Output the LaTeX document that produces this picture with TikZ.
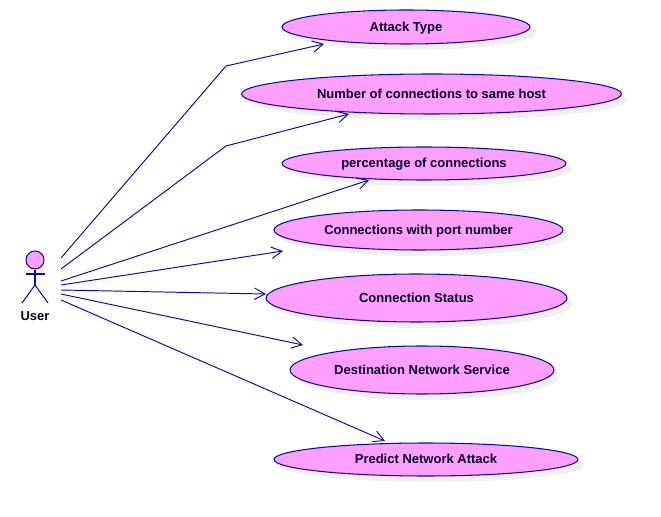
\documentclass[tikz,border=0pt]{standalone}
\usepackage{fontspec}
\setmainfont{Liberation Sans}
\usetikzlibrary{shapes.geometric, arrows.meta, shadows}

\begin{document}
\begin{tikzpicture}[
    x=0.02cm, y=-0.02cm,
    usecase/.style={ellipse, draw=umlblue, fill=umlpink, line width=0.6pt, inner sep=0pt, text=black!85!blue,
      text height=6.4pt, text depth=1.5pt,
      font=\fontsize{7.4pt}{9pt}\selectfont\bfseries,
      drop shadow={shadow xshift=3.4pt, shadow yshift=-3.4pt, fill=black!6, opacity=1}},
    limb/.style={draw=umlblue, line width=0.6pt},
    assoc/.style={-{Straight Barb[length=6pt,width=6.5pt]}, draw=umlblue, line width=0.55pt}
  ]
  \definecolor{umlblue}{RGB}{10,10,170}
  \definecolor{umlpink}{RGB}{255,160,255}

  \useasboundingbox (0,0) rectangle (661,516);

  % Actor
  \node[circle, limb, fill=umlpink, minimum size=0.36cm, inner sep=0pt] (head) at (35,260) {};
  \coordinate (hip) at (35,285);
  \coordinate (armL) at (26,274);
  \coordinate (armR) at (45,274);
  \coordinate (footL) at (22,303);
  \coordinate (footR) at (48,303);
  \draw[limb] (head.south) -- (hip);
  \draw[limb] (armL) -- (armR);
  \draw[limb] (footL) -- (hip) -- (footR);
  \node[text=black!85!blue, font=\fontsize{7.4pt}{9pt}\selectfont\bfseries] (user) at (35,316.5) {User};

  % Use cases
  \node[usecase, minimum width=4.96cm, minimum height=0.68cm] (attack) at (406,27) {Attack Type};
  \node[usecase, minimum width=7.6cm, minimum height=0.8cm] (same) at (431.5,94) {Number of connections to same host};
  \node[usecase, minimum width=5.68cm, minimum height=0.66cm] (percent) at (424,163.5) {percentage of connections};
  \node[usecase, minimum width=5.78cm, minimum height=0.8cm] (port) at (418.5,230) {Connections with port number};
  \node[usecase, minimum width=6.02cm, minimum height=0.96cm] (status) at (416.5,298) {Connection Status};
  \node[usecase, minimum width=5.28cm, minimum height=0.96cm] (service) at (422,370) {Destination Network Service};
  \node[usecase, minimum width=6.08cm, minimum height=0.66cm] (predict) at (426,459.5) {Predict Network Attack};

  % Free ends beside the actor
  \coordinate (fromA) at (61,258);
  \coordinate (fromB) at (61,269);
  \coordinate (bendA) at (226,66);
  \coordinate (bendB) at (226,146);

  % Associations
  \draw[assoc] (fromA) -- (bendA) -- ([shift={(-82,17)}]attack.center);
  \draw[assoc] (fromB) -- (bendB) -- ([shift={(-82.5,20)}]same.center);
  \foreach \sy/\target/\dx/\dy in {281/percent/-55/16.5, 285/port/-135.5/21, 290/status/-150.5/-4, 294/service/-119/-25, 300/predict/-41/-18.5} {
      \coordinate (from) at (61,\sy);
      \draw[assoc] (from) -- ([shift={(\dx,\dy)}]\target.center);
    }

\end{tikzpicture}
\end{document}
